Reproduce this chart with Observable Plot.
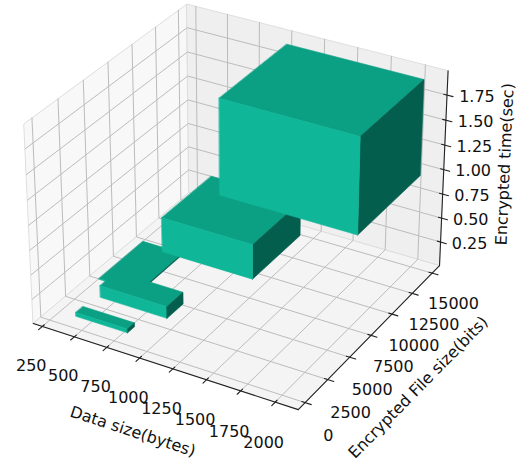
<!DOCTYPE html>
<html>
<head>
<meta charset="utf-8">
<script src="https://cdn.jsdelivr.net/npm/d3@7"></script>
<script src="https://cdn.jsdelivr.net/npm/@observablehq/plot@0.6"></script>
<style>
  html, body { margin: 0; padding: 0; background: #fff; }
  #chart svg { display: block; }
</style>
</head>
<body>
<div id="chart"></div>
<script>
// Encryption benchmark: each box spans [from, to] along the three axes
const dataSizeFrom = [400, 270, 512, 700, 1024];
const dataSizeTo   = [800, 590, 1024, 1390, 2048];
const fileSizeFrom = [720, 4800, 1800, 5800, 7500];
const fileSizeTo   = [1440, 9500, 3500, 11200, 15000];
const timeFrom     = [0.04, 0.02, 0.19, 0.40, 0.97];
const timeTo       = [0.08, 0.03, 0.31, 0.75, 1.93];

// Ticks and titles
const xTicks = [250, 500, 750, 1000, 1250, 1500, 1750, 2000];
const yTicks = [0, 2500, 5000, 7500, 10000, 12500, 15000];
const zTicks = [0.25, 0.5, 0.75, 1.0, 1.25, 1.5, 1.75];
const xTickLabels = xTicks.map(String);
const yTickLabels = yTicks.map(String);
const zTickLabels = ["0.25", "0.50", "0.75", "1.00", "1.25", "1.50", "1.75"];
const xTitle = "Data size(bytes)";
const yTitle = "Encrypted File size(bits)";
const zTitle = "Encrypted time(sec)";

// Pane bounds of the 3D box
const xLim = [179, 2165];
const yLim = [-746, 15943];
const zLim = [0, 1.99];

// Face shades
const topColor = "#0b9f83";
const frontColor = "#0fb698";
const sideColor = "#045e4e";

// Camera (elevation / azimuth in degrees, perspective)
const elevation = 30, azimuth = -60, distance = 10;
const aspect = [4, 4, 3].map(v => v * 1.8294640721620434 / Math.hypot(4, 4, 3));

const rad = Math.PI / 180;
const cross = (a, b) => [a[1]*b[2] - a[2]*b[1], a[2]*b[0] - a[0]*b[2], a[0]*b[1] - a[1]*b[0]];
const dot = (a, b) => a[0]*b[0] + a[1]*b[1] + a[2]*b[2];
const unit = a => { const n = Math.hypot(...a); return a.map(c => c / n); };
const viewDir = [
  Math.cos(elevation*rad) * Math.cos(azimuth*rad),
  Math.cos(elevation*rad) * Math.sin(azimuth*rad),
  Math.sin(elevation*rad)
];
const boxCenter = aspect.map(a => a / 2);
const eye = boxCenter.map((c, i) => c + distance * viewDir[i]);
const wAxis = unit(viewDir);
const uAxis = unit(cross([0, 0, 1], wAxis));
const vAxis = cross(wAxis, uAxis);

function project(x, y, z) {
  const p = [
    (x - xLim[0]) / (xLim[1] - xLim[0]) * aspect[0],
    (y - yLim[0]) / (yLim[1] - yLim[0]) * aspect[1],
    (z - zLim[0]) / (zLim[1] - zLim[0]) * aspect[2]
  ];
  const d = p.map((c, i) => c - eye[i]);
  const depth = -dot(wAxis, d);
  return {px: dot(uAxis, d) / depth, py: dot(vAxis, d) / depth, depth};
}

// Projected-plane window shown by the figure
const W = 521, H = 465;
const viewScale = 2657, viewOrigin = [239.5, 197];
const xDomain = [-viewOrigin[0] / viewScale, (W - viewOrigin[0]) / viewScale];
const yDomain = [-(H - viewOrigin[1]) / viewScale, viewOrigin[1] / viewScale];

const [X0, X1] = xLim, [Y0, Y1] = yLim, [Z0, Z1] = zLim;
const Xr = X1 - X0, Yr = Y1 - Y0, Zr = Z1 - Z0;

function polyline(id, pts, extra = {}) {
  return pts.map(([x, y, z]) => ({id, ...project(x, y, z), ...extra}));
}

// Panes
const panes = [
  ...polyline("pane-x", [[X0, Y0, Z0], [X0, Y1, Z0], [X0, Y1, Z1], [X0, Y0, Z1]], {fill: "#f8f8f8"}),
  ...polyline("pane-y", [[X0, Y1, Z0], [X1, Y1, Z0], [X1, Y1, Z1], [X0, Y1, Z1]], {fill: "#efefef"}),
  ...polyline("pane-z", [[X0, Y0, Z0], [X1, Y0, Z0], [X1, Y1, Z0], [X0, Y1, Z0]], {fill: "#f4f4f4"})
];

// Grid lines
const grid = [
  ...xTicks.flatMap((x, i) => polyline("gx" + i, [[x, Y0, Z0], [x, Y1, Z0], [x, Y1, Z1]])),
  ...yTicks.flatMap((y, i) => polyline("gy" + i, [[X1, y, Z0], [X0, y, Z0], [X0, y, Z1]])),
  ...zTicks.flatMap((z, i) => polyline("gz" + i, [[X0, Y0, z], [X0, Y1, z], [X1, Y1, z]]))
];

// Axis lines and tick marks
const axes = [
  ...polyline("ax", [[X0, Y0, Z0], [X1, Y0, Z0]]),
  ...polyline("ay", [[X1, Y0, Z0], [X1, Y1, Z0]]),
  ...polyline("az", [[X1, Y1, Z0], [X1, Y1, Z1]]),
  ...xTicks.flatMap((x, i) => polyline("tx" + i, [[x, Y0 + 0.012*Yr, Z0], [x, Y0 - 0.022*Yr, Z0]])),
  ...yTicks.flatMap((y, i) => polyline("ty" + i, [[X1 - 0.012*Xr, y, Z0], [X1 + 0.022*Xr, y, Z0]])),
  ...zTicks.flatMap((z, i) => polyline("tz" + i, [[X1 - 0.012*Xr, Y1, z], [X1 + 0.022*Xr, Y1, z]]))
];

// Box faces (visible ones), painted far to near by mean depth
const faces = [];
dataSizeFrom.forEach((_, i) => {
  const a = dataSizeFrom[i], b = dataSizeTo[i];
  const c = fileSizeFrom[i], d = fileSizeTo[i];
  const e = timeFrom[i], f = timeTo[i];
  faces.push({id: `top${i}`, color: topColor, pts: [[a, c, f], [b, c, f], [b, d, f], [a, d, f]]});
  faces.push({id: `front${i}`, color: frontColor, pts: [[a, c, e], [b, c, e], [b, c, f], [a, c, f]]});
  faces.push({id: `side${i}`, color: sideColor, pts: [[b, c, e], [b, d, e], [b, d, f], [b, c, f]]});
});
faces.forEach(face => {
  face.proj = face.pts.map(([x, y, z]) => project(x, y, z));
  face.order = d3.mean(face.proj, p => -distance / p.depth);
});
faces.sort((p, q) => q.order - p.order);
const boxes = faces.flatMap(face => face.proj.map(p => ({id: face.id, ...p, fill: face.color})));

// Tick labels
const tickText = [
  ...xTicks.map((x, i) => ({...project(x, Y0 - 0.073*Yr, Z0 - 0.15*Zr), text: xTickLabels[i]})),
  ...yTicks.map((y, i) => ({...project(X1 + 0.085*Xr, y, Z0 - 0.13*Zr), text: yTickLabels[i]})),
  ...zTicks.map((z, i) => ({...project(X1 + 0.09*Xr, Y1 + 0.04*Yr, z), text: zTickLabels[i]}))
];

// Axis titles, rotated along their projected axis
function screenAngle(p, q) {
  const dx = (q.px - p.px), dy = -(q.py - p.py);
  return Math.atan2(dy, dx) / rad;
}
const titles = [
  {...project((X0 + X1) / 2, Y0 - 0.186*Yr, Z0 - 0.195*Zr), text: xTitle,
   rotate: screenAngle(project(X0, Y0, Z0), project(X1, Y0, Z0))},
  {...project(X1 + 0.176*Xr, (Y0 + Y1) / 2, Z0 - 0.2*Zr), text: yTitle,
   rotate: screenAngle(project(X1, Y0, Z0), project(X1, Y1, Z0))},
  {...project(X1 + 0.16*Xr, Y1 + 0.14*Yr, (Z0 + Z1) / 2), text: zTitle,
   rotate: screenAngle(project(X1, Y1, Z0), project(X1, Y1, Z1))}
];

const font = {fontFamily: "DejaVu Sans, sans-serif", fontSize: 16, fill: "#111"};

const chart = Plot.plot({
  width: W,
  height: H,
  margin: 0,
  x: {domain: xDomain, axis: null},
  y: {domain: yDomain, axis: null},
  color: {type: "identity"},
  marks: [
    Plot.line(panes, {x: "px", y: "py", z: "id", fill: "fill", stroke: "#dedede", strokeWidth: 1, curve: "linear-closed"}),
    Plot.line(grid, {x: "px", y: "py", z: "id", stroke: "#bcbcbc", strokeWidth: 1}),
    Plot.line(axes, {x: "px", y: "py", z: "id", stroke: "#222", strokeWidth: 1.1}),
    Plot.line(boxes, {x: "px", y: "py", z: "id", fill: "fill", stroke: "fill", strokeWidth: 0.6, curve: "linear-closed"}),
    Plot.text(tickText, {x: "px", y: "py", text: "text", textAnchor: "middle", lineAnchor: "middle", ...font}),
    Plot.text(titles, {x: "px", y: "py", text: "text", rotate: "rotate", textAnchor: "middle", lineAnchor: "middle", ...font})
  ]
});
document.getElementById("chart").append(chart);
</script>
</body>
</html>
